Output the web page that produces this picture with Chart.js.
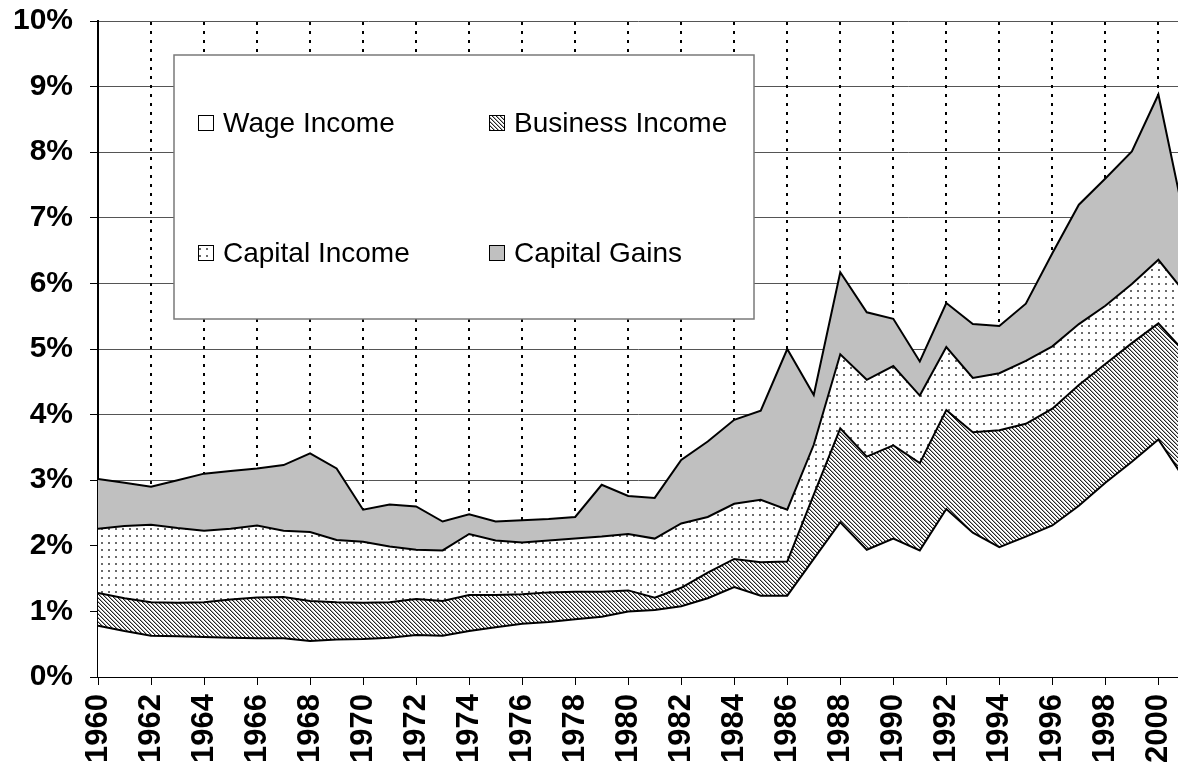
<!DOCTYPE html>
<html>
<head>
<meta charset="utf-8">
<script src="https://cdn.jsdelivr.net/npm/chart.js@4.4.1/dist/chart.umd.min.js"></script>
<style>
    html, body { margin: 0; padding: 0; background: #fff; overflow: hidden; }
    #container-grafico { width: 1178px; height: 776px; }
</style>
</head>
<body>
<div id="container-grafico"><canvas id="grafico-renda" width="1178" height="776"></canvas></div>
<script>
// Dados (pontos percentuais de cada componente, empilhados)
const anos = [1960, 1961, 1962, 1963, 1964, 1965, 1966, 1967, 1968, 1969,
              1970, 1971, 1972, 1973, 1974, 1975, 1976, 1977, 1978, 1979,
              1980, 1981, 1982, 1983, 1984, 1985, 1986, 1987, 1988, 1989,
              1990, 1991, 1992, 1993, 1994, 1995, 1996, 1997, 1998, 1999,
              2000, 2001];

const categorias = ['Wage Income', 'Business Income', 'Capital Income', 'Capital Gains'];

const rendaSalarios = [0.78, 0.70, 0.63, 0.62, 0.61, 0.60, 0.59, 0.59, 0.55, 0.57,
                       0.58, 0.60, 0.64, 0.63, 0.70, 0.76, 0.81, 0.84, 0.88, 0.92,
                       1.00, 1.02, 1.08, 1.20, 1.37, 1.24, 1.24, 1.80, 2.36, 1.94,
                       2.11, 1.93, 2.56, 2.20, 1.98, 2.14, 2.31, 2.61, 2.96, 3.28,
                       3.62, 3.01];

const rendaNegocios = [0.50, 0.50, 0.51, 0.51, 0.53, 0.58, 0.62, 0.63, 0.61, 0.57,
                       0.55, 0.54, 0.55, 0.53, 0.55, 0.49, 0.45, 0.45, 0.42, 0.38,
                       0.32, 0.19, 0.28, 0.39, 0.43, 0.51, 0.52, 0.98, 1.43, 1.42,
                       1.42, 1.33, 1.51, 1.53, 1.78, 1.72, 1.78, 1.84, 1.81, 1.81,
                       1.77, 1.94];

const rendaCapital = [0.98, 1.10, 1.18, 1.14, 1.09, 1.08, 1.10, 1.01, 1.05, 0.95,
                      0.93, 0.85, 0.75, 0.77, 0.93, 0.83, 0.79, 0.79, 0.81, 0.84,
                      0.86, 0.90, 0.98, 0.85, 0.84, 0.95, 0.79, 0.76, 1.13, 1.17,
                      1.21, 1.03, 0.96, 0.83, 0.87, 0.96, 0.95, 0.93, 0.89, 0.90,
                      0.97, 0.91];

const ganhosCapital = [0.76, 0.66, 0.58, 0.73, 0.87, 0.88, 0.87, 1.00, 1.20, 1.09,
                       0.49, 0.64, 0.66, 0.44, 0.30, 0.29, 0.34, 0.33, 0.33, 0.79,
                       0.58, 0.62, 0.97, 1.15, 1.28, 1.36, 2.45, 0.76, 1.25, 1.03,
                       0.72, 0.52, 0.67, 0.82, 0.72, 0.87, 1.42, 1.82, 1.94, 2.02,
                       2.52, 1.09];

const FONTE = '"Liberation Sans", Arial, sans-serif';

// Padroes de preenchimento (hachura e pontilhado)
function criarPadrao(tipo) {
    const c = document.createElement('canvas');
    const ctx = c.getContext('2d');
    if (tipo === 'hachura') {
        c.width = 4;
        c.height = 4;
        ctx.fillStyle = '#fff';
        ctx.fillRect(0, 0, 4, 4);
        for (let i = 0; i < 4; i++) {
            ctx.fillStyle = '#222';
            ctx.fillRect(i, i, 1, 1);
            ctx.fillStyle = '#aaa';
            ctx.fillRect((i + 1) % 4, i, 1, 1);
        }
    } else {
        c.width = 7;
        c.height = 7;
        ctx.fillStyle = '#fff';
        ctx.fillRect(0, 0, 7, 7);
        ctx.fillStyle = '#6a6a6a';
        ctx.fillRect(3, 3, 2, 2);
    }
    return ctx.createPattern(c, 'repeat');
}

const preenchimentos = ['#ffffff', criarPadrao('hachura'), criarPadrao('pontos'), '#c0c0c0'];
const series = [rendaSalarios, rendaNegocios, rendaCapital, ganhosCapital];

// Linhas verticais pontilhadas a cada 2 anos (atras das areas)
const linhasPontilhadas = {
    id: 'linhasPontilhadas',
    beforeDatasetsDraw(chart) {
        const { ctx, chartArea, scales: { x } } = chart;
        ctx.save();
        ctx.strokeStyle = '#000';
        ctx.lineWidth = 2;
        ctx.setLineDash([3, 6]);
        x.ticks.forEach(t => {
            if (t.value <= x.min) return;
            const px = Math.round(x.getPixelForValue(t.value));
            ctx.beginPath();
            ctx.moveTo(px, chartArea.top + 1);
            ctx.lineTo(px, chartArea.bottom);
            ctx.stroke();
        });
        ctx.restore();
    }
};

// Legenda em caixa, 2 x 2
const legendaCaixa = {
    id: 'legendaCaixa',
    afterDraw(chart) {
        const ctx = chart.ctx;
        ctx.save();
        ctx.fillStyle = '#fff';
        ctx.fillRect(174, 55, 580, 264);
        ctx.strokeStyle = '#7a7a7a';
        ctx.lineWidth = 1.5;
        ctx.strokeRect(174, 55, 580, 264);

        const posicoes = [[198, 123], [489, 123], [198, 253], [489, 253]];
        chart.data.datasets.forEach((ds, i) => {
            const [x, y] = posicoes[i];
            ctx.fillStyle = ds.backgroundColor;
            ctx.fillRect(x, y - 8, 16, 16);
            ctx.strokeStyle = '#000';
            ctx.lineWidth = 1;
            ctx.strokeRect(x + 0.5, y - 7.5, 15, 15);
            ctx.fillStyle = '#000';
            ctx.font = '28px ' + FONTE;
            ctx.textBaseline = 'middle';
            ctx.textAlign = 'left';
            ctx.fillText(ds.label, x + 25, y + 1);
        });
        ctx.restore();
    }
};

const ctx = document.getElementById('grafico-renda').getContext('2d');

new Chart(ctx, {
    type: 'line',
    data: {
        labels: anos,
        datasets: categorias.map((nome, i) => ({
            label: nome,
            data: series[i],
            backgroundColor: preenchimentos[i],
            borderColor: '#000',
            borderWidth: 2,
            pointRadius: 0,
            tension: 0,
            fill: i === 0 ? 'origin' : '-1'
        }))
    },
    options: {
        responsive: false,
        animation: false,
        events: [],
        layout: { padding: { top: 21, right: 0, left: 0, bottom: 0 } },
        plugins: {
            legend: { display: false },
            tooltip: { enabled: false }
        },
        scales: {
            x: {
                type: 'linear',
                min: 1960,
                max: 2000.74,
                grid: {
                    drawOnChartArea: false,
                    color: '#000',
                    tickColor: '#000',
                    tickLength: 8,
                    tickWidth: 1
                },
                border: { color: '#000', width: 2 },
                ticks: {
                    stepSize: 2,
                    includeBounds: false,
                    autoSkip: false,
                    maxRotation: 90,
                    minRotation: 90,
                    padding: 9,
                    color: '#000',
                    font: { family: FONTE, size: 31, weight: 'bold' },
                    callback: v => String(v)
                },
                afterFit(scale) {
                    scale.height = 99;
                    scale.paddingLeft = 0;
                    scale.paddingRight = 0;
                }
            },
            y: {
                stacked: true,
                min: 0,
                max: 10,
                grid: {
                    color: '#555',
                    lineWidth: 1,
                    tickColor: '#000',
                    tickLength: 8
                },
                border: { color: '#000', width: 2 },
                ticks: {
                    stepSize: 1,
                    padding: 17,
                    color: '#000',
                    font: { family: FONTE, size: 30, weight: 'bold' },
                    callback: v => v + '%'
                },
                afterFit(scale) {
                    scale.width = 98;
                    scale.paddingTop = 0;
                    scale.paddingBottom = 0;
                }
            }
        }
    },
    plugins: [linhasPontilhadas, legendaCaixa]
});
</script>
</body>
</html>
